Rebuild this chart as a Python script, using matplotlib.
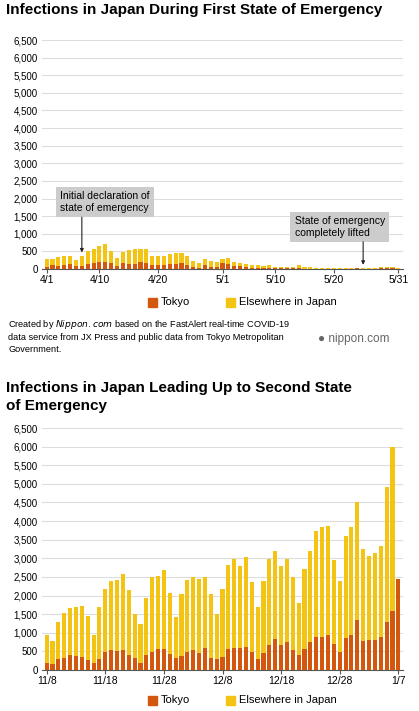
import matplotlib
matplotlib.use("Agg")
import matplotlib.pyplot as plt
import numpy as np

plt.rcParams['font.family'] = ['Liberation Sans', 'DejaVu Sans']

# First state of emergency: 4/1 - 5/31
first_total = [270,280,350,370,370,250,370,520,580,650,710,500,300,480,550,580,580,580,380,360,
               380,430,440,440,380,230,180,280,220,200,
               270,300,210,180,130,110,100,90,110,70,60,70,60,100,60,50,20,30,30,30,
               30,40,30,40,20,30,40,60,60,50,40]
first_tokyo = [70,100,90,120,140,80,80,140,180,190,200,170,90,160,130,150,200,180,100,100,
               120,130,130,160,100,70,40,110,50,50,
               160,150,90,90,60,40,20,40,40,20,20,30,20,30,10,10,5,10,5,5,
               10,5,5,15,5,10,10,15,20,15,5]
first_ticks = ["4/1","4/10","4/20","5/1","5/10","5/20","5/31"]
first_tick_idx = [0,9,19,30,39,49,60]

# Second: 11/8 - 1/7
second_total = [950,780,1280,1540,1660,1700,1730,1440,950,1700,2180,2380,2420,2590,2150,1510,1230,1940,
                2500,2530,2680,2060,1430,2030,2430,2510,2440,2500,2030,1500,2170,2810,2970,2800,3040,
                2360,1680,2400,2980,3200,2800,2990,2500,1810,2700,3200,3740,3830,3880,2950,2400,3600,
                3850,4520,3240,3060,3150,3330,4920,6000,2450]
second_tokyo = [190,160,290,320,390,370,350,260,180,290,490,530,520,540,390,310,190,400,
                480,570,570,420,310,370,490,530,460,580,330,300,350,570,600,600,620,
                480,300,460,680,820,660,740,550,390,560,750,890,880,950,710,480,860,
                940,1340,780,810,810,880,1280,1590,2450]
second_ticks = ["11/8","11/18","11/28","12/8","12/18","12/28","1/7"]
second_tick_idx = [0,10,20,30,40,50,60]

C_TOKYO = "#D4570E"
C_ELSE = "#F4C414"
W, H = 419, 711
fig = plt.figure(figsize=(W/100, H/100), dpi=100)

def px_axes(l, t, r, b):
    return fig.add_axes([l/W, 1-b/H, (r-l)/W, (b-t)/H])

def draw(ax, total, tokyo, ticks, idx):
    x = np.arange(len(total))
    tok = np.array(tokyo); tot = np.array(total)
    ax.bar(x, tok, width=0.7, color=C_TOKYO, zorder=3)
    ax.bar(x, tot - tok, bottom=tok, width=0.7, color=C_ELSE, zorder=3)
    ax.set_ylim(0, 6500)
    ax.set_xlim(-0.8, len(total)-0.2)
    ax.set_yticks(range(0, 6501, 500))
    ax.set_yticklabels([f"{v:,}" for v in range(0, 6501, 500)], fontsize=7)
    ax.set_xticks(idx)
    ax.set_xticklabels(ticks, fontsize=7.5)
    ax.grid(axis='y', color='#dddddd', lw=0.8, zorder=0)
    for s in ['top','right','left']:
        ax.spines[s].set_visible(False)
    ax.spines['bottom'].set_color('#555555')
    ax.tick_params(axis='y', length=0, pad=3)
    ax.tick_params(axis='x', length=3, pad=1, color='#555555')

def legend(y):
    fig.patches.append(plt.Rectangle((148/W, 1-(y+5)/H), 9/W, 9/H, color=C_TOKYO, transform=fig.transFigure))
    fig.text(161/W, 1-y/H, "Tokyo", fontsize=8, va='center')
    fig.patches.append(plt.Rectangle((226/W, 1-(y+5)/H), 9/W, 9/H, color=C_ELSE, transform=fig.transFigure))
    fig.text(239/W, 1-y/H, "Elsewhere in Japan", fontsize=8, va='center')

fig.text(6/W, 1-10/H, "Infections in Japan During First State of Emergency",
         fontsize=11, fontweight='bold', va='center')
ax1 = px_axes(42, 40, 403, 269)
draw(ax1, first_total, first_tokyo, first_ticks, first_tick_idx)
box = dict(boxstyle='square,pad=0.4', fc='#cccccc', ec='none')
ax1.text(2.3, 1900, "Initial declaration of\nstate of emergency", fontsize=7.5, va='center', ha='left',
         bbox=box, zorder=5)
ax1.annotate("", xy=(6, first_total[6]+20), xytext=(6, 1550),
             arrowprops=dict(arrowstyle='-|>', color='#222222', lw=0.8, mutation_scale=5), zorder=5)
ax1.text(42.3, 1200, "State of emergency\ncompletely lifted", fontsize=7.5, va='center', ha='left',
         bbox=box, zorder=5)
ax1.annotate("", xy=(54, first_total[54]+20), xytext=(54, 850),
             arrowprops=dict(arrowstyle='-|>', color='#222222', lw=0.8, mutation_scale=5), zorder=5)
legend(302)

fig.text(8/W, 1-336/H, "Created by $\\it{Nippon.com}$ based on the FastAlert real-time COVID-19\n"
         "data service from JX Press and public data from Tokyo Metropolitan\nGovernment.",
         fontsize=6.6, va='center', linespacing=1.3)
fig.text(318/W, 1-339/H, "● nippon.com", fontsize=8.5, va='center', color='#666666')

fig.text(6/W, 1-397/H, "Infections in Japan Leading Up to Second State\nof Emergency",
         fontsize=11, fontweight='bold', va='center', linespacing=1.3)
ax2 = px_axes(42, 428, 403, 670)
draw(ax2, second_total, second_tokyo, second_ticks, second_tick_idx)
legend(700)

fig.savefig("out.png", dpi=100, facecolor='white')
